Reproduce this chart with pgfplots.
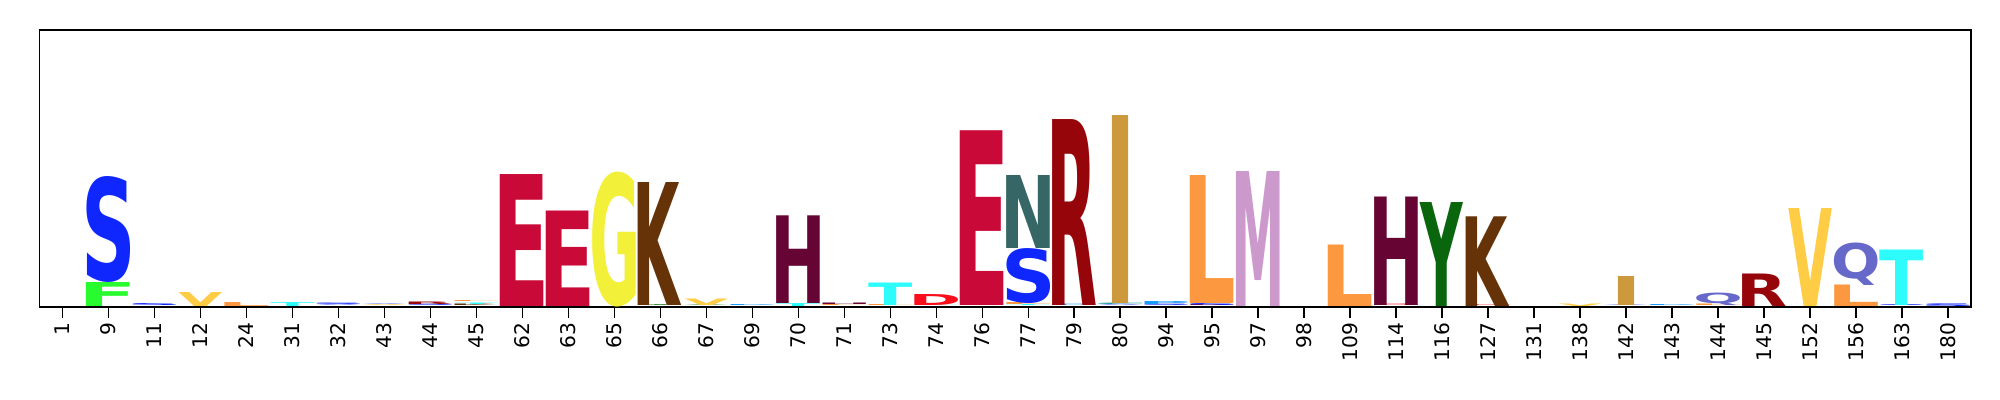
\documentclass[border=0pt]{standalone}
\usepackage{fontspec}
\setmainfont{DejaVu Sans}
\newfontfamily\logofont{DejaVu Sans}
\usepackage{graphicx}
\usepackage{pgfplots}
\pgfplotsset{compat=1.18}
\usepackage{pgfplotstable}

\definecolor{lF}{rgb}{.16,.99,.18}
\definecolor{lY}{rgb}{.04,.40,.05}
\definecolor{lL}{rgb}{.99,.60,.25}
\definecolor{lV}{rgb}{1.0,.80,.27}
\definecolor{lI}{rgb}{.80,.60,.24}
\definecolor{lH}{rgb}{.40,.02,.20}
\definecolor{lW}{rgb}{.42,.79,.42}
\definecolor{lA}{rgb}{.55,.61,.99}
\definecolor{lS}{rgb}{.06,.15,.99}
\definecolor{lT}{rgb}{.18,.99,.99}
\definecolor{lM}{rgb}{.80,.60,.80}
\definecolor{lN}{rgb}{.21,.40,.40}
\definecolor{lQ}{rgb}{.40,.41,.79}
\definecolor{lR}{rgb}{.59,.02,.04}
\definecolor{lK}{rgb}{.40,.20,.03}
\definecolor{lE}{rgb}{.79,.04,.22}
\definecolor{lG}{rgb}{.95,.94,.22}
\definecolor{lD}{rgb}{.99,.05,.11}
\definecolor{lP}{rgb}{.10,.61,.99}
\definecolor{lC}{rgb}{.09,.60,.60}

\def\letterI{I}
\newcommand\logoletter[2]{\edef\tmpletter{#1}\expandafter\logoletterA\expandafter{\tmpletter}{#2}}
\newcommand\logoletterA[2]{%
  \begingroup\logofont\bfseries
  \edef\gid{\the\XeTeXcharglyph`#1}%
  \setbox0\hbox{\kern-\XeTeXglyphbounds1 \gid\relax\textcolor{l#1}{#1}\kern-\XeTeXglyphbounds3 \gid\relax}%
  \ht0=\XeTeXglyphbounds2 \gid\relax
  \dp0=\XeTeXglyphbounds4 \gid\relax
  \pgfmathsetlengthmacro\hl{#2*0.25pt}%
  \def\wl{10.9pt}%
  \ifx\tmpletter\letterI\def\wl{4.05pt}\fi
  \resizebox*{\wl}{\hl}{\copy0}%
  \endgroup}

% x = position index, y0 = bottom of letter, h = letter height (pixel units)
\pgfplotstableread{
x y0 h let
1 0 24 F
1 24 106 S
2 0 2 S
3 0 14 V
4 0 4 L
5 0 4 T
6 0 1.5 A
6 1.5 1.5 S
7 0 1 V
7 1 1 A
8 0 1.5 S
8 1.5 2.5 R
9 0 1.5 K
9 1.5 1.5 T
9 3.5 1 L
10 0 132 E
11 0 95.5 E
12 0 135 G
13 0 1 Y
13 1 123 K
14 0 1 Y
14 1 6.5 V
15 0 1 P
16 0 3 T
16 3 87.7 H
17 0 1 L
17 1 1.5 H
18 0 1 L
18 1 22.5 T
19 0 1 T
19 1 11 D
20 0 0.7 K
20 0.7 1 T
20 1.7 174.8 E
21 0 1 T
21 1 2 L
21 3 55 S
21 58 73 N
22 0 1.5 P
22 1.5 186 R
23 0 1.5 A
23 1.5 1.5 C
23 3 188 I
24 0 1.5 S
24 1.5 3 P
25 0 1 R
25 1 2.5 S
25 3.5 128 L
26 0 135 M
28 0 61.5 L
29 0 1.5 D
29 1.5 108.5 H
30 0 104 Y
31 0 0.8 D
31 0.8 89.7 K
33 0 2.5 V
34 0 1 A
34 1 29 I
35 0 1 P
36 0 1.5 L
36 1.5 12.5 Q
37 0 32.5 R
38 0 98 V
39 0 21.5 L
39 21.5 42.5 Q
40 0 1 S
40 1 55.5 T
41 0 2.7 S
}\logodata

\begin{document}
\begin{tikzpicture}
\begin{axis}[
  name=ax,
  x=11.5pt, y=0.25pt,
  xmin=-0.5, xmax=41.5, ymin=0, ymax=277,
  axis line style={line width=0.38pt},
  xtick={0,...,41},
  xticklabels={1,9,11,12,24,31,32,43,44,45,62,63,65,66,67,69,70,71,73,74,76,77,79,80,94,95,97,98,109,114,116,127,131,138,142,143,144,145,152,156,163,180},
  ytick=\empty,
  xtick pos=lower,
  tick align=outside,
  major tick length=2.8pt,
  every tick/.style={black, line width=0.38pt},
  xticklabel style={rotate=90, anchor=east, font=\fontsize{5.05pt}{6pt}\selectfont, inner sep=1pt},
  clip=false,
]
\addplot[draw=none, mark=none,
  point meta=explicit symbolic,
  visualization depends on={\thisrow{h}\as\hh},
  nodes near coords={\logoletter{\pgfplotspointmeta}{\hh}},
  every node near coord/.append style={anchor=south, inner sep=0pt, outer sep=0pt},
] table[x=x, y=y0, meta=let] {\logodata};
\end{axis}
\pgfresetboundingbox
\path[use as bounding box] ([xshift=-9.875pt,yshift=-23.25pt]ax.south west) rectangle ([xshift=7.25pt,yshift=7.5pt]ax.north east);
\end{tikzpicture}
\end{document}
